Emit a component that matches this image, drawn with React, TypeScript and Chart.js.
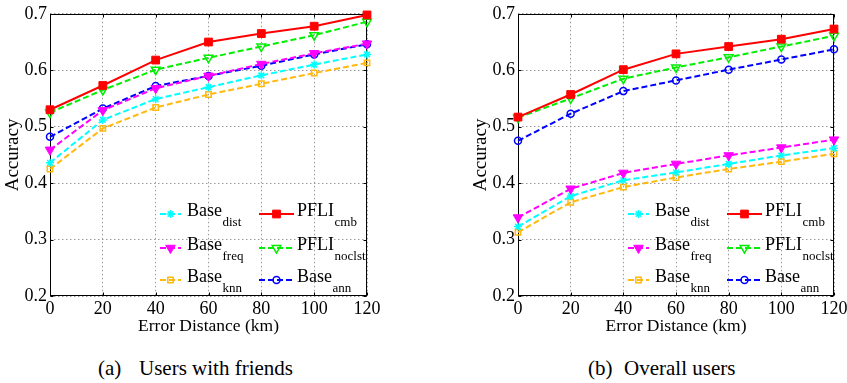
import React, { useEffect, useRef } from "react";
import { Chart, registerables } from "chart.js";

Chart.register(...registerables);

const FONT = "'Liberation Serif', 'Times New Roman', Times, serif";

// ---------- data ----------
const ERROR_DISTANCE_KM = [0, 20, 40, 60, 80, 100, 120];
const X_TICKS = [0, 20, 40, 60, 80, 100, 120];
const Y_TICKS = [0.2, 0.3, 0.4, 0.5, 0.6, 0.7];
const X_TITLE = "Error Distance (km)";
const Y_TITLE = "Accuracy";

// (a) Users with friends
const A_PFLI_CMB = [0.53, 0.573, 0.618, 0.65, 0.665, 0.678, 0.698];
const A_PFLI_NOCLST = [0.525, 0.565, 0.601, 0.622, 0.642, 0.662, 0.686];
const A_BASE_ANN = [0.482, 0.532, 0.572, 0.59, 0.608, 0.628, 0.646];
const A_BASE_FREQ = [0.459, 0.529, 0.568, 0.59, 0.611, 0.63, 0.647];
const A_BASE_DIST = [0.436, 0.512, 0.549, 0.57, 0.591, 0.61, 0.628];
const A_BASE_KNN = [0.425, 0.497, 0.534, 0.557, 0.576, 0.595, 0.613];

// (b) Overall users
const B_PFLI_CMB = [0.517, 0.557, 0.601, 0.629, 0.642, 0.655, 0.673];
const B_PFLI_NOCLST = [0.516, 0.55, 0.585, 0.605, 0.623, 0.642, 0.661];
const B_BASE_ANN = [0.475, 0.523, 0.563, 0.582, 0.601, 0.619, 0.637];
const B_BASE_FREQ = [0.339, 0.39, 0.418, 0.434, 0.449, 0.463, 0.477];
const B_BASE_DIST = [0.323, 0.377, 0.405, 0.419, 0.434, 0.449, 0.462];
const B_BASE_KNN = [0.313, 0.366, 0.393, 0.41, 0.425, 0.438, 0.452];

const CAPTION_A = ["(a)", "Users with friends"];
const CAPTION_B = ["(b)", "Overall users"];

// ---------- styles ----------
type SeriesStyle = {
  name: string;
  sub: string;
  color: string;
  dash: number[];
  pointStyle: string;
  rotation: number;
  radius: number;
  filled: boolean;
  pbw: number;
  col: number;
  row: number;
};

const SERIES: SeriesStyle[] = [
  { name: "PFLI", sub: "cmb", color: "#FF0000", dash: [], pointStyle: "rect", rotation: 0, radius: 5.5, filled: true, pbw: 1, col: 1, row: 0 },
  { name: "PFLI", sub: "noclst", color: "#00EE00", dash: [6, 3], pointStyle: "triangle", rotation: 180, radius: 5, filled: false, pbw: 1.5, col: 1, row: 1 },
  { name: "Base", sub: "freq", color: "#FF00FF", dash: [6, 3], pointStyle: "triangle", rotation: 180, radius: 5.5, filled: true, pbw: 1, col: 0, row: 1 },
  { name: "Base", sub: "ann", color: "#0000FF", dash: [6, 3], pointStyle: "circle", rotation: 0, radius: 3.5, filled: false, pbw: 1.5, col: 1, row: 2 },
  { name: "Base", sub: "dist", color: "#00FFFF", dash: [6, 3], pointStyle: "star", rotation: 0, radius: 4, filled: false, pbw: 1.5, col: 0, row: 0 },
  { name: "Base", sub: "knn", color: "#FFB90F", dash: [6, 3], pointStyle: "rect", rotation: 0, radius: 3.8, filled: false, pbw: 1.5, col: 0, row: 2 },
];

const A_VALUES: Record<string, number[]> = {
  cmb: A_PFLI_CMB, noclst: A_PFLI_NOCLST, ann: A_BASE_ANN,
  freq: A_BASE_FREQ, dist: A_BASE_DIST, knn: A_BASE_KNN,
};
const B_VALUES: Record<string, number[]> = {
  cmb: B_PFLI_CMB, noclst: B_PFLI_NOCLST, ann: B_BASE_ANN,
  freq: B_BASE_FREQ, dist: B_BASE_DIST, knn: B_BASE_KNN,
};

// ---------- plugins ----------
function drawMarker(ctx: CanvasRenderingContext2D, s: SeriesStyle, x: number, y: number) {
  const r = s.radius;
  ctx.save();
  ctx.setLineDash([]);
  ctx.lineWidth = s.pbw;
  ctx.strokeStyle = s.color;
  ctx.fillStyle = s.filled ? s.color : "rgba(255,255,255,0)";
  ctx.beginPath();
  if (s.pointStyle === "rect") {
    const h = r * Math.SQRT1_2;
    ctx.rect(x - h, y - h, 2 * h, 2 * h);
  } else if (s.pointStyle === "triangle") {
    let rad = (s.rotation * Math.PI) / 180;
    ctx.moveTo(x + Math.sin(rad) * r, y - Math.cos(rad) * r);
    rad += (2 * Math.PI) / 3;
    ctx.lineTo(x + Math.sin(rad) * r, y - Math.cos(rad) * r);
    rad += (2 * Math.PI) / 3;
    ctx.lineTo(x + Math.sin(rad) * r, y - Math.cos(rad) * r);
    ctx.closePath();
  } else if (s.pointStyle === "circle") {
    ctx.arc(x, y, r, 0, Math.PI * 2);
    ctx.closePath();
  } else if (s.pointStyle === "star") {
    for (let k = 0; k < 4; k++) {
      const a = (k * Math.PI) / 4;
      ctx.moveTo(x - Math.cos(a) * r, y - Math.sin(a) * r);
      ctx.lineTo(x + Math.cos(a) * r, y + Math.sin(a) * r);
    }
  }
  if (s.filled) ctx.fill();
  ctx.stroke();
  ctx.restore();
}

const framePlugin = {
  id: "matlabFrame",
  beforeDatasetsDraw(chart: any) {
    const { ctx, chartArea, scales } = chart;
    const { left, right, top, bottom } = chartArea;
    const L = Math.round(left) + 0.5;
    const R = Math.round(right) - 0.5;
    const T = Math.round(top) + 0.5;
    const B = Math.round(bottom) - 0.5;
    ctx.save();
    ctx.setLineDash([]);
    ctx.strokeStyle = "#000";
    ctx.lineWidth = 1;
    ctx.strokeRect(L, T, R - L, B - T);
    const tl = 3;
    ctx.beginPath();
    for (const v of X_TICKS) {
      const px = Math.round(scales.x.getPixelForValue(v)) + 0.5;
      ctx.moveTo(px, B);
      ctx.lineTo(px, B - tl);
      ctx.moveTo(px, T);
      ctx.lineTo(px, T + tl);
    }
    for (const v of Y_TICKS) {
      const py = Math.round(scales.y.getPixelForValue(v)) + 0.5;
      ctx.moveTo(L, py);
      ctx.lineTo(L + tl, py);
      ctx.moveTo(R, py);
      ctx.lineTo(R - tl, py);
    }
    ctx.stroke();
    ctx.restore();
  },
};

const legendPlugin = {
  id: "subLegend",
  afterDatasetsDraw(chart: any) {
    const { ctx, chartArea } = chart;
    const { left, bottom } = chartArea;
    const rowOffsets = [82, 48, 16];
    const cols = [
      { x0: 110, x1: 131, tx: 137 },
      { x0: 209, x1: 244, tx: 247 },
    ];
    ctx.save();
    for (const s of SERIES) {
      const c = cols[s.col];
      const y = bottom - rowOffsets[s.row];
      const x0 = left + c.x0;
      const x1 = left + c.x1;
      ctx.save();
      ctx.strokeStyle = s.color;
      ctx.lineWidth = 2;
      ctx.setLineDash(s.dash);
      ctx.beginPath();
      ctx.moveTo(x0, y);
      ctx.lineTo(x1, y);
      ctx.stroke();
      ctx.restore();
      drawMarker(ctx, s, (x0 + x1) / 2, y);
      ctx.fillStyle = "#000";
      ctx.textAlign = "left";
      ctx.textBaseline = "alphabetic";
      ctx.font = `18px ${FONT}`;
      const tx = left + c.tx;
      ctx.fillText(s.name, tx, y + 2);
      const w = ctx.measureText(s.name).width;
      ctx.font = `13px ${FONT}`;
      ctx.fillText(s.sub, tx + w + 0.5, y + 11.5);
    }
    ctx.restore();
  },
};

function buildConfig(values: Record<string, number[]>, rightPad: number): any {
  const datasets = SERIES.map((s) => ({
    label: s.name + "_" + s.sub,
    data: ERROR_DISTANCE_KM.map((x, i) => ({ x, y: values[s.sub][i] })),
    borderColor: s.color,
    backgroundColor: s.color,
    borderWidth: 2,
    borderDash: s.dash,
    pointStyle: s.pointStyle,
    pointRotation: s.rotation,
    pointRadius: s.radius,
    pointHoverRadius: s.radius,
    pointBackgroundColor: s.filled ? s.color : "rgba(255,255,255,0)",
    pointBorderColor: s.color,
    pointBorderWidth: s.pbw,
    fill: false,
    tension: 0,
    clip: false,
  }));
  const tickFont = { family: FONT, size: 18 };
  return {
    type: "line",
    data: { datasets },
    plugins: [framePlugin, legendPlugin],
    options: {
      animation: false,
      responsive: false,
      maintainAspectRatio: false,
      devicePixelRatio: 1,
      layout: { padding: { top: 11, right: rightPad, bottom: 0, left: 0 } },
      plugins: {
        legend: { display: false },
        tooltip: { enabled: false },
        title: { display: false },
      },
      scales: {
        x: {
          type: "linear",
          min: 0,
          max: 120,
          afterBuildTicks: (s: any) => {
            s.ticks = X_TICKS.map((v) => ({ value: v }));
          },
          afterFit: (s: any) => {
            s.height = 44;
          },
          ticks: { font: tickFont, color: "#000", padding: 2, maxRotation: 0, autoSkip: false },
          grid: { color: "#9a9a9a", lineWidth: 1, drawTicks: false },
          border: { display: false, dash: [1.5, 2.5] },
          title: {
            display: true,
            text: X_TITLE,
            color: "#000",
            font: { family: FONT, size: 17.5 },
            padding: { top: 0, bottom: 3 },
          },
        },
        y: {
          type: "linear",
          min: 0.2,
          max: 0.7,
          afterBuildTicks: (s: any) => {
            s.ticks = Y_TICKS.map((v) => ({ value: v }));
          },
          afterFit: (s: any) => {
            s.width = 50;
          },
          ticks: {
            font: tickFont,
            color: "#000",
            padding: 3,
            callback: (v: any) => Number(v).toFixed(1),
          },
          grid: { color: "#9a9a9a", lineWidth: 1, drawTicks: false },
          border: { display: false, dash: [1.5, 2.5] },
          title: {
            display: true,
            text: Y_TITLE,
            color: "#000",
            font: { family: FONT, size: 19 },
            padding: { top: 2, bottom: 0 },
          },
        },
      },
    },
  };
}

function Panel({ values, left, rightPad }: { values: Record<string, number[]>; left: number; rightPad: number }) {
  const ref = useRef<HTMLCanvasElement | null>(null);
  useEffect(() => {
    if (!ref.current) return;
    const chart = new Chart(ref.current, buildConfig(values, rightPad));
    return () => chart.destroy();
  }, [values, rightPad]);
  return (
    <canvas
      ref={ref}
      width={420}
      height={340}
      style={{ position: "absolute", left, top: 0, width: 420, height: 340 }}
    />
  );
}

function Caption({ parts, left, gapLeft }: { parts: string[]; left: number; gapLeft: number }) {
  const style: React.CSSProperties = {
    position: "absolute",
    top: 358,
    fontFamily: FONT,
    fontSize: 21,
    lineHeight: "21px",
    color: "#000",
    whiteSpace: "nowrap",
  };
  return (
    <>
      <div style={{ ...style, left }}>{parts[0]}</div>
      <div style={{ ...style, left: gapLeft }}>{parts[1]}</div>
    </>
  );
}

export default function App() {
  return (
    <div
      style={{
        position: "absolute",
        left: 0,
        top: 0,
        width: 847,
        height: 383,
        background: "#fff",
        overflow: "hidden",
      }}
    >
      <Panel values={A_VALUES} left={0} rightPad={53} />
      <Panel values={B_VALUES} left={468} rightPad={54} />
      <Caption parts={CAPTION_A} left={98} gapLeft={139} />
      <Caption parts={CAPTION_B} left={588} gapLeft={624} />
    </div>
  );
}
